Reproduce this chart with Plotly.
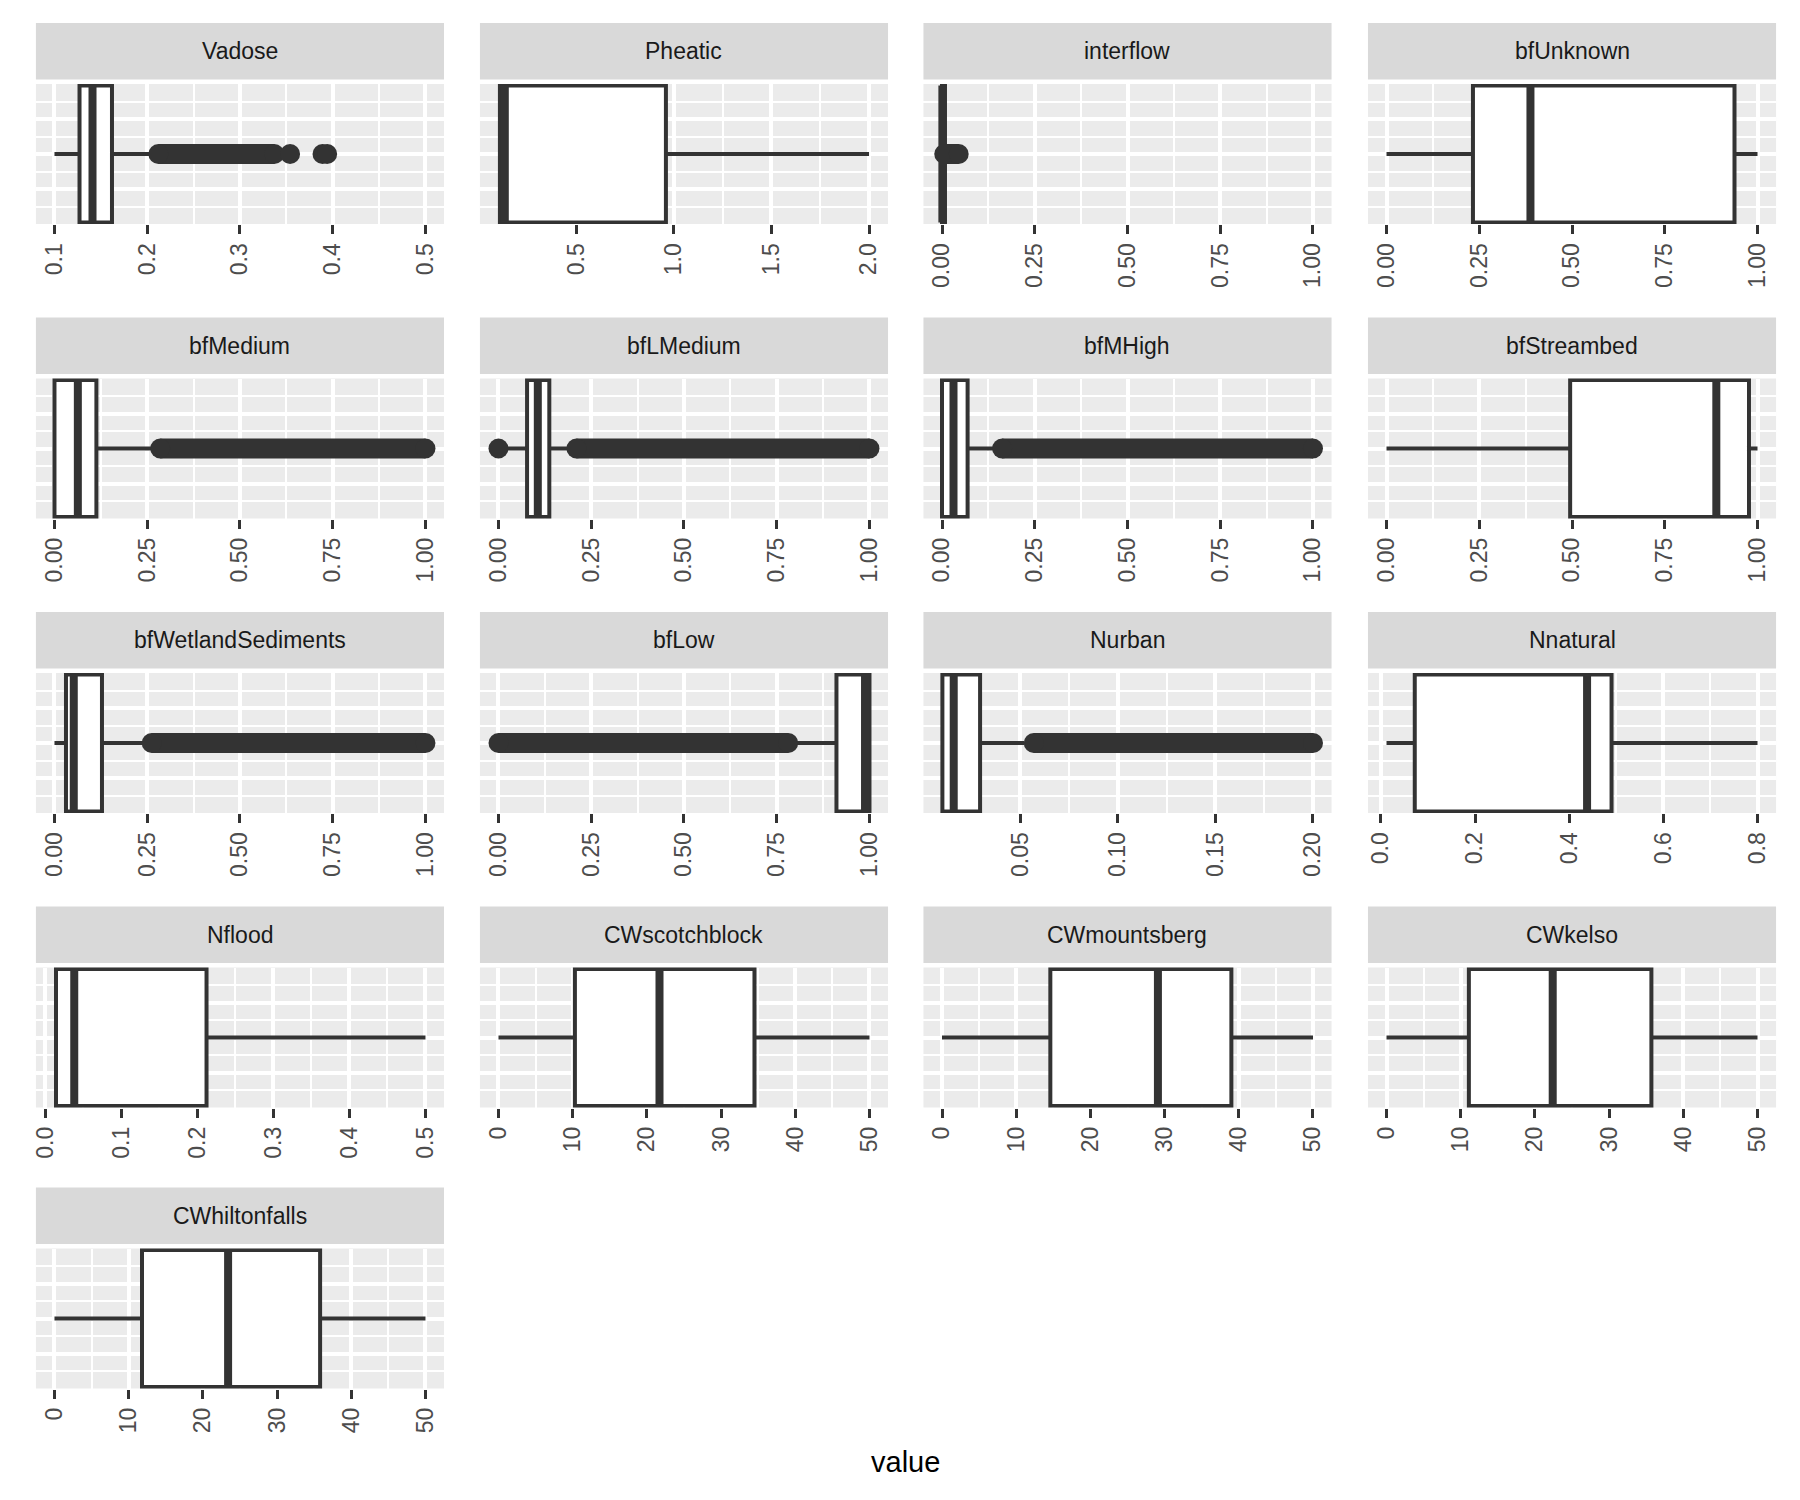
import plotly.graph_objects as go

# ---------------- data ----------------
panels = ["Vadose", "Pheatic", "interflow", "bfUnknown",
          "bfMedium", "bfLMedium", "bfMHigh", "bfStreambed",
          "bfWetlandSediments", "bfLow", "Nurban", "Nnatural",
          "Nflood", "CWscotchblock", "CWmountsberg", "CWkelso",
          "CWhiltonfalls"]

lower_whisker = [0.100, 0.103, 0.000, 0.000, 0.000, 0.020, 0.000, 0.000,
                 0.000, 0.790, 0.010, 0.012, 0.012, 0.0, 0.0, 0.0, 0.0]
q1 = [0.127, 0.110, 0.000, 0.233, 0.000, 0.077, 0.000, 0.495,
      0.031, 0.911, 0.0102, 0.072, 0.014, 10.3, 14.6, 11.1, 11.8]
median = [0.141, 0.135, 0.001, 0.388, 0.063, 0.106, 0.031, 0.889,
          0.052, 0.988, 0.016, 0.438, 0.038, 21.7, 29.1, 22.4, 23.4]
q3 = [0.162, 0.960, 0.008, 0.938, 0.113, 0.137, 0.069, 0.977,
      0.128, 1.000, 0.0295, 0.490, 0.212, 34.5, 39.0, 35.7, 35.8]
upper_whisker = [0.205, 2.000, 0.008, 1.000, 0.275, 0.200, 0.155, 1.000,
                 0.255, 1.000, 0.052, 0.800, 0.500, 50, 50, 50, 50]

# individual outliers that can be told apart
outlier_points = [[0.354, 0.389, 0.394], [], [], [],
                  [], [0.0], [], [],
                  [], [], [], [],
                  [], [], [], [], []]
# dense runs of outliers (first, last) that merge into a solid band
outlier_bands = [(0.212, 0.337), None, (0.006, 0.045), None,
                 (0.285, 1.000), (0.210, 1.000), (0.162, 1.000), None,
                 (0.262, 1.000), (0.000, 0.781), (0.057, 0.200), None,
                 None, None, None, None, None]

# axis scales of each facet (free x scales)
x_limits = [(0.080, 0.520), (0.0077, 2.0973), (-0.05, 1.05), (-0.05, 1.05),
            (-0.05, 1.05), (-0.05, 1.05), (-0.05, 1.05), (-0.05, 1.05),
            (-0.05, 1.05), (-0.05, 1.05), (0.0005, 0.2095), (-0.0274, 0.8394),
            (-0.0124, 0.5244), (-2.5, 52.5), (-2.5, 52.5), (-2.5, 52.5),
            (-2.5, 52.5)]
tick_step = [0.1, 0.5, 0.25, 0.25, 0.25, 0.25, 0.25, 0.25, 0.25, 0.25,
             0.05, 0.2, 0.1, 10, 10, 10, 10]
tick_format = [".1f", ".1f", ".2f", ".2f", ".2f", ".2f", ".2f", ".2f", ".2f",
               ".2f", ".2f", ".1f", ".1f", "d", "d", "d", "d"]

# ---------------- style / layout ----------------
W, H = 1800, 1500
DARK = "#333333"
FONT = "Liberation Sans, Arial, sans-serif"
col_left = [32.0, 477.0, 921.5, 1367.0]
panel_w = 409.0
row_top = [84.0, 378.5, 673.0, 967.5, 1248.5]
panel_h = 140.0
strip_h = 56.5
strip_gap = 4.5
box_half = 0.392
major_w, minor_w = 3.6, 2.2
box_lw = 4.0
median_lw = 8.0
dot = 20

fig = go.Figure()
layout = {}
shapes = []
annotations = []

for i, name in enumerate(panels):
    r, c = divmod(i, 4)
    sfx = "" if i == 0 else str(i + 1)
    xa, ya = "x" + sfx, "y" + sfx
    x0, x1 = col_left[c], col_left[c] + panel_w
    y0, y1 = row_top[r], row_top[r] + panel_h

    # outliers (drawn first, as ggplot does)
    band = outlier_bands[i]
    if band is not None:
        fig.add_trace(go.Scatter(
            x=[band[0], band[1]], y=[0, 0], mode="lines+markers",
            line=dict(color=DARK, width=dot), marker=dict(color=DARK, size=dot),
            xaxis=xa, yaxis=ya, showlegend=False, hoverinfo="skip"))
    if outlier_points[i]:
        fig.add_trace(go.Scatter(
            x=outlier_points[i], y=[0] * len(outlier_points[i]), mode="markers",
            marker=dict(color=DARK, size=dot), xaxis=xa, yaxis=ya,
            showlegend=False, hoverinfo="skip"))

    fig.add_trace(go.Box(
        orientation="h", y=[0], q1=[q1[i]], median=[median[i]], q3=[q3[i]],
        lowerfence=[lower_whisker[i]], upperfence=[upper_whisker[i]],
        width=2 * box_half, fillcolor="white",
        line=dict(color=DARK, width=box_lw), whiskerwidth=0, boxpoints=False,
        xaxis=xa, yaxis=ya, showlegend=False, hoverinfo="skip"))
    # thicker median bar (ggplot fatten = 2)
    fig.add_trace(go.Scatter(
        x=[median[i], median[i]], y=[-box_half, box_half], mode="lines",
        line=dict(color=DARK, width=median_lw), xaxis=xa, yaxis=ya,
        showlegend=False, hoverinfo="skip"))

    step = tick_step[i]
    layout["xaxis" + sfx] = dict(
        domain=[x0 / W, x1 / W], anchor=ya, range=list(x_limits[i]),
        tick0=0, dtick=step, tickformat=tick_format[i],
        ticks="outside", ticklen=9, tickwidth=3.2, tickcolor=DARK,
        tickangle=-90, tickfont=dict(family=FONT, size=23, color="#4D4D4D"),
        showgrid=True, gridcolor="white", gridwidth=major_w,
        zeroline=False, showline=False, fixedrange=True,
        minor=dict(tick0=0, dtick=step / 2, showgrid=True,
                   gridcolor="white", gridwidth=minor_w, ticks=""))
    layout["yaxis" + sfx] = dict(
        domain=[1 - y1 / H, 1 - y0 / H], anchor=xa, range=[-0.4, 0.4],
        tickmode="array", tickvals=[-0.2, 0, 0.2], showticklabels=False,
        ticks="", showgrid=True, gridcolor="white", gridwidth=major_w,
        zeroline=False, showline=False, fixedrange=True,
        minor=dict(tickmode="array", tickvals=[-0.3, -0.1, 0.1, 0.3],
                   showgrid=True, gridcolor="white", gridwidth=minor_w, ticks=""))

    s_top = y0 - strip_gap - strip_h
    s_bot = y0 - strip_gap
    shapes.append(dict(type="rect", xref="paper", yref="paper",
                       x0=x0 / W, x1=x1 / W, y0=1 - s_bot / H, y1=1 - s_top / H,
                       fillcolor="#D9D9D9", line=dict(width=0), layer="below"))
    annotations.append(dict(text=name, xref="paper", yref="paper",
                            x=(x0 + x1) / 2 / W, y=1 - (s_top + s_bot) / 2 / H,
                            xanchor="center", yanchor="middle", showarrow=False,
                            font=dict(family=FONT, size=23, color="#1A1A1A")))

annotations.append(dict(text="value", xref="paper", yref="paper",
                        x=(col_left[0] + col_left[3] + panel_w) / 2 / W,
                        y=1 - 1462 / H, xanchor="center", yanchor="middle",
                        showarrow=False,
                        font=dict(family=FONT, size=29, color="black")))

fig.update_layout(
    width=W, height=H, margin=dict(l=0, r=0, t=0, b=0),
    paper_bgcolor="white", plot_bgcolor="#EBEBEB",
    shapes=shapes, annotations=annotations, showlegend=False,
    font=dict(family=FONT), **layout)

fig.write_html("out.html")
